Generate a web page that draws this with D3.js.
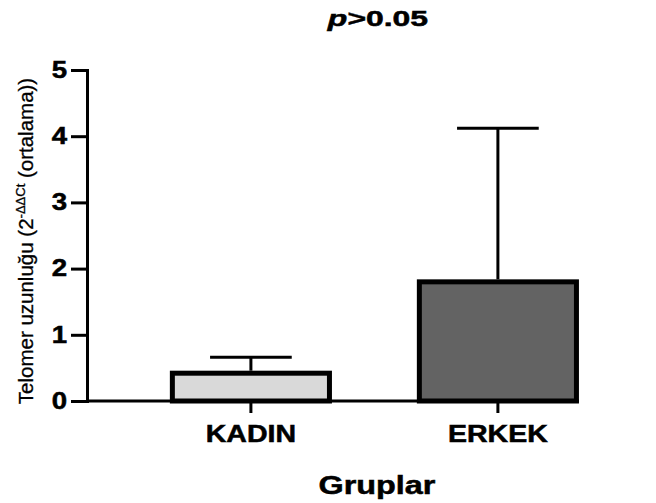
<!DOCTYPE html>
<html>
<head>
<meta charset="utf-8">
<script src="https://cdn.jsdelivr.net/npm/d3@7"></script>
<style>
  body { margin: 0; background: #fff; }
  text { font-family: Arial, "Liberation Sans", sans-serif; fill: #000; }
</style>
</head>
<body>
<div class="chart"></div>
<script>
// data
var groups = ['KADIN', 'ERKEK'];
var means = [0.42, 1.80];
var upper = [0.66, 4.12];
var fills = ['#d9d9d9', '#636363'];
var yTicks = [0, 1, 2, 3, 4, 5];

var svgWidth = 656;
var svgHeight = 503;

var svg = d3.select('.chart')
    .append('svg')
    .attr('width', svgWidth)
    .attr('height', svgHeight);

// scales
var x = d3.scaleBand()
    .domain(groups)
    .range([87, 580])
    .paddingInner(0.364)
    .paddingOuter(0.18)
    .align(0.96);
var y = d3.scaleLinear().domain([0, 5]).range([401, 70]);

// stretch text horizontally like the original export
function stretch(sel, k) {
    sel.each(function() {
        var w = this.getComputedTextLength();
        d3.select(this).attr('textLength', w * k).attr('lengthAdjust', 'spacingAndGlyphs');
    });
}

// bars
svg.selectAll('.bar')
    .data(groups)
    .enter()
    .append('rect')
    .attr('class', 'bar')
    .attr('x', function(d) { return x(d); })
    .attr('y', function(d, i) { return y(means[i]); })
    .attr('width', x.bandwidth())
    .attr('height', function(d, i) { return y(0) - y(means[i]); })
    .attr('fill', function(d, i) { return fills[i]; })
    .attr('stroke', '#000')
    .attr('stroke-width', 5);

// error bars (upper only)
var capHalf = x.bandwidth() * 0.26;
var err = svg.selectAll('.err')
    .data(groups)
    .enter()
    .append('g')
    .attr('class', 'err')
    .attr('stroke', '#000')
    .attr('stroke-width', 3);
err.append('line')
    .attr('x1', function(d) { return x(d) + x.bandwidth() / 2; })
    .attr('x2', function(d) { return x(d) + x.bandwidth() / 2; })
    .attr('y1', function(d, i) { return y(means[i]) - 2.5; })
    .attr('y2', function(d, i) { return y(upper[i]); });
err.append('line')
    .attr('x1', function(d) { return x(d) + x.bandwidth() / 2 - capHalf; })
    .attr('x2', function(d) { return x(d) + x.bandwidth() / 2 + capHalf; })
    .attr('y1', function(d, i) { return y(upper[i]); })
    .attr('y2', function(d, i) { return y(upper[i]); });

// y axis
var leftAxis = d3.axisLeft(y)
    .tickValues(yTicks)
    .tickFormat(d3.format('d'))
    .tickSize(16)
    .tickSizeOuter(0)
    .tickPadding(4);
var gy = svg.append('g')
    .attr('transform', 'translate(87,0)')
    .call(leftAxis);
gy.select('.domain').attr('stroke-width', 3).attr('stroke-linecap', 'square');
gy.selectAll('.tick line').attr('stroke-width', 3);
gy.selectAll('.tick text')
    .attr('font-size', 23)
    .attr('font-weight', 'bold')
    .attr('fill', '#000')
    .attr('stroke', '#000')
    .attr('stroke-width', 0.5)
    .attr('font-family', 'Arial, "Liberation Sans", sans-serif')
    .call(stretch, 1.2);

// x axis
var bottomAxis = d3.axisBottom(x).tickSize(12).tickSizeOuter(0).tickPadding(14);
var gx = svg.append('g')
    .attr('transform', 'translate(0,401)')
    .call(bottomAxis);
gx.select('.domain')
    .attr('stroke-width', 3)
    .attr('d', 'M87,0H' + (x('ERKEK') + x.bandwidth() + 2.5));
gx.selectAll('.tick line').attr('stroke-width', 3);
gx.selectAll('.tick text')
    .attr('font-size', 23)
    .attr('font-weight', 'bold')
    .attr('fill', '#000')
    .attr('stroke', '#000')
    .attr('stroke-width', 0.5)
    .attr('font-family', 'Arial, "Liberation Sans", sans-serif')
    .attr('dy', null)
    .attr('y', 41)
    .call(stretch, 1.24);

// x axis title
svg.append('text')
    .attr('x', 377)
    .attr('y', 494)
    .attr('text-anchor', 'middle')
    .attr('font-size', 25.5)
    .attr('font-weight', 'bold')
    .attr('stroke', '#000')
    .attr('stroke-width', 0.5)
    .text('Gruplar')
    .call(stretch, 1.27);

// y axis title
var yl = svg.append('text')
    .attr('transform', 'translate(33,241) rotate(-90)')
    .attr('text-anchor', 'middle')
    .attr('font-size', 20.5)
    .attr('stroke', '#000')
    .attr('stroke-width', 0.3);
yl.append('tspan').text('Telomer uzunluğu (2');
yl.append('tspan').attr('font-size', 13).attr('dy', -8).text('-ΔΔCt');
yl.append('tspan').attr('dy', 8).text(' (ortalama))');

// p value title
var t = svg.append('text')
    .attr('x', 378)
    .attr('y', 26)
    .attr('text-anchor', 'middle')
    .attr('font-size', 22)
    .attr('font-weight', 'bold')
    .attr('stroke', '#000')
    .attr('stroke-width', 0.5);
t.append('tspan').attr('font-style', 'italic').text('p');
t.append('tspan').text('>0.05');
t.call(stretch, 1.45);
</script>
</body>
</html>
